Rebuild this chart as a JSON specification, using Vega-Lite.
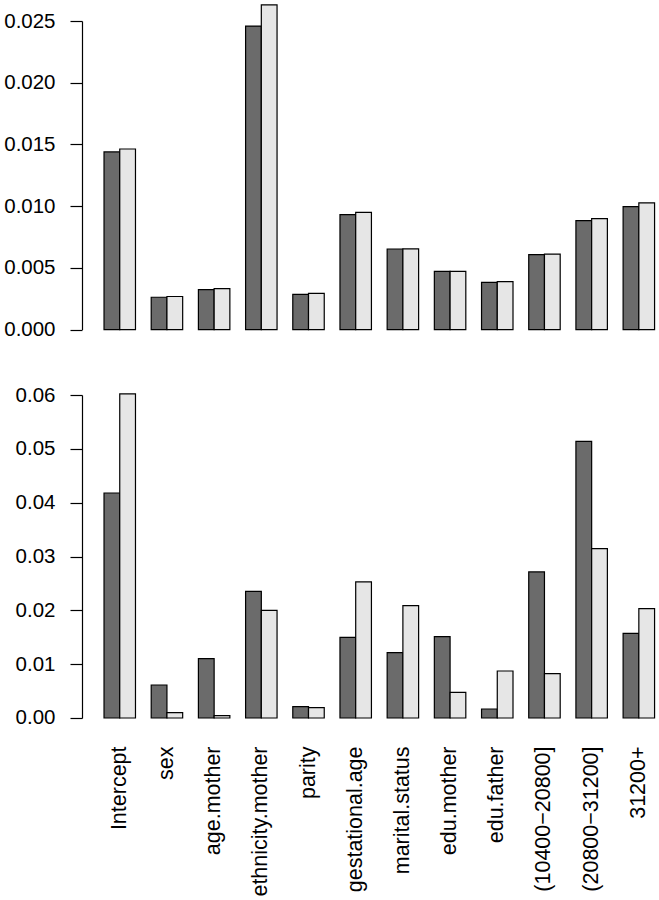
{
  "$schema": "https://vega.github.io/schema/vega-lite/v6.json",
  "padding": {"left": 3, "top": 4, "right": 0, "bottom": 0},
  "background": "white",
  "config": {
    "view": {"stroke": null},
    "font": "Liberation Sans",
    "axis": {"grid": false, "labelFont": "Liberation Sans", "labelColor": "black", "domainColor": "black", "tickColor": "black", "title": null}
  },
  "datasets": {
    "top": [
      {"var": "Intercept", "series": "a", "value": 0.01439},
      {"var": "Intercept", "series": "b", "value": 0.01463},
      {"var": "sex", "series": "a", "value": 0.00262},
      {"var": "sex", "series": "b", "value": 0.00268},
      {"var": "age.mother", "series": "a", "value": 0.00324},
      {"var": "age.mother", "series": "b", "value": 0.00332},
      {"var": "ethnicity.mother", "series": "a", "value": 0.02459},
      {"var": "ethnicity.mother", "series": "b", "value": 0.0263},
      {"var": "parity", "series": "a", "value": 0.00286},
      {"var": "parity", "series": "b", "value": 0.00294},
      {"var": "gestational.age", "series": "a", "value": 0.00932},
      {"var": "gestational.age", "series": "b", "value": 0.0095},
      {"var": "marital.status", "series": "a", "value": 0.00653},
      {"var": "marital.status", "series": "b", "value": 0.00654},
      {"var": "edu.mother", "series": "a", "value": 0.00472},
      {"var": "edu.mother", "series": "b", "value": 0.00472},
      {"var": "edu.father", "series": "a", "value": 0.00383},
      {"var": "edu.father", "series": "b", "value": 0.00389},
      {"var": "(10400−20800]", "series": "a", "value": 0.00607},
      {"var": "(10400−20800]", "series": "b", "value": 0.00612},
      {"var": "(20800−31200]", "series": "a", "value": 0.00883},
      {"var": "(20800−31200]", "series": "b", "value": 0.00899},
      {"var": "31200+", "series": "a", "value": 0.00996},
      {"var": "31200+", "series": "b", "value": 0.01026}
    ],
    "bottom": [
      {"var": "Intercept", "series": "a", "value": 0.0418},
      {"var": "Intercept", "series": "b", "value": 0.0602},
      {"var": "sex", "series": "a", "value": 0.00613},
      {"var": "sex", "series": "b", "value": 0.00099},
      {"var": "age.mother", "series": "a", "value": 0.01102},
      {"var": "age.mother", "series": "b", "value": 0.00043},
      {"var": "ethnicity.mother", "series": "a", "value": 0.02352},
      {"var": "ethnicity.mother", "series": "b", "value": 0.02},
      {"var": "parity", "series": "a", "value": 0.0021},
      {"var": "parity", "series": "b", "value": 0.00191},
      {"var": "gestational.age", "series": "a", "value": 0.01498},
      {"var": "gestational.age", "series": "b", "value": 0.02527},
      {"var": "marital.status", "series": "a", "value": 0.01213},
      {"var": "marital.status", "series": "b", "value": 0.02087},
      {"var": "edu.mother", "series": "a", "value": 0.01511},
      {"var": "edu.mother", "series": "b", "value": 0.00476},
      {"var": "edu.father", "series": "a", "value": 0.00167},
      {"var": "edu.father", "series": "b", "value": 0.00873},
      {"var": "(10400−20800]", "series": "a", "value": 0.02713},
      {"var": "(10400−20800]", "series": "b", "value": 0.00823},
      {"var": "(20800−31200]", "series": "a", "value": 0.0514},
      {"var": "(20800−31200]", "series": "b", "value": 0.03146},
      {"var": "31200+", "series": "a", "value": 0.01572},
      {"var": "31200+", "series": "b", "value": 0.02031}
    ]
  },
  "vconcat": [
    {
      "data": {"name": "top"},
      "width": 594.6,
      "height": 308.6,
      "mark": {"type": "bar", "stroke": "black", "strokeWidth": 1.2, "clip": false},
      "encoding": {
        "x": {
          "field": "var", "type": "nominal",
          "sort": ["Intercept", "sex", "age.mother", "ethnicity.mother", "parity", "gestational.age", "marital.status", "edu.mother", "edu.father", "(10400−20800]", "(20800−31200]", "31200+"],
          "scale": {"paddingInner": 0.33333, "paddingOuter": 0.46667},
          "axis": null
        },
        "xOffset": {"field": "series", "type": "nominal", "sort": ["a", "b"], "scale": {"paddingInner": 0, "paddingOuter": 0}},
        "y": {
          "field": "value", "type": "quantitative",
          "scale": {"domain": [0, 0.025], "nice": false, "zero": true},
          "axis": {"values": [0, 0.005, 0.01, 0.015, 0.02, 0.025], "format": ".3f", "labelFontSize": 20.5, "tickSize": 12, "labelPadding": 15, "domainWidth": 1.2, "tickWidth": 1.2, "labelBaseline": "middle"}
        },
        "fill": {"field": "series", "type": "nominal", "scale": {"domain": ["a", "b"], "range": ["#6b6b6b", "#e6e6e6"]}, "legend": null}
      }
    },
    {
      "data": {"name": "bottom"},
      "width": 594.6,
      "height": 323,
      "mark": {"type": "bar", "stroke": "black", "strokeWidth": 1.2, "clip": false},
      "encoding": {
        "x": {
          "field": "var", "type": "nominal",
          "sort": ["Intercept", "sex", "age.mother", "ethnicity.mother", "parity", "gestational.age", "marital.status", "edu.mother", "edu.father", "(10400−20800]", "(20800−31200]", "31200+"],
          "scale": {"paddingInner": 0.33333, "paddingOuter": 0.46667},
          "axis": {"labelAngle": -90, "labelFontSize": 21.5, "domain": false, "ticks": false, "tickSize": 0, "labelPadding": 28, "labelAlign": "right", "labelBaseline": "middle"}
        },
        "xOffset": {"field": "series", "type": "nominal", "sort": ["a", "b"], "scale": {"paddingInner": 0, "paddingOuter": 0}},
        "y": {
          "field": "value", "type": "quantitative",
          "scale": {"domain": [0, 0.06], "nice": false, "zero": true},
          "axis": {"values": [0, 0.01, 0.02, 0.03, 0.04, 0.05, 0.06], "format": ".2f", "labelFontSize": 20.5, "tickSize": 12, "labelPadding": 15, "domainWidth": 1.2, "tickWidth": 1.2, "labelBaseline": "middle"}
        },
        "fill": {"field": "series", "type": "nominal", "scale": {"domain": ["a", "b"], "range": ["#6b6b6b", "#e6e6e6"]}, "legend": null}
      }
    }
  ],
  "spacing": 65,
  "bounds": "flush",
  "resolve": {"scale": {"y": "independent", "x": "independent"}}
}
